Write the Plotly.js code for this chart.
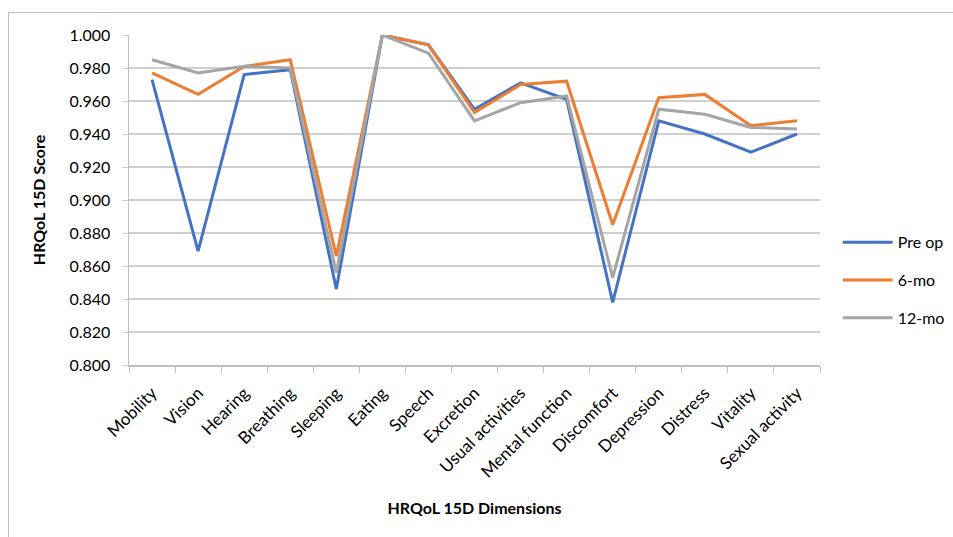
<!DOCTYPE html>
<html>
<head>
<meta charset="utf-8">
<script src="https://cdn.plot.ly/plotly-3.0.1.min.js"></script>
<style>
html,body{margin:0;padding:0;background:#fff;overflow:hidden;}
#plot{position:absolute;left:0;top:0;width:953px;height:537px;}
#frame{position:absolute;left:8px;top:12px;width:960px;height:560px;border:1px solid #bfbfbf;box-sizing:border-box;z-index:10;pointer-events:none;background:transparent;}
</style>
</head>
<body>
<div id="plot"></div>
<div id="frame"></div>
<script>
const categories = ["Mobility","Vision","Hearing","Breathing","Sleeping","Eating","Speech","Excretion","Usual activities","Mental function","Discomfort","Depression","Distress","Vitality","Sexual activity"];
const preOp  = [0.973, 0.869, 0.976, 0.979, 0.846, 1.000, 0.994, 0.955, 0.971, 0.961, 0.838, 0.948, 0.940, 0.929, 0.940];
const sixMo  = [0.977, 0.964, 0.981, 0.985, 0.866, 1.000, 0.994, 0.953, 0.970, 0.972, 0.885, 0.962, 0.964, 0.945, 0.948];
const twelveMo = [0.985, 0.977, 0.981, 0.980, 0.856, 1.000, 0.989, 0.948, 0.959, 0.963, 0.853, 0.955, 0.952, 0.944, 0.943];
const yTicks = [0.800,0.820,0.840,0.860,0.880,0.900,0.920,0.940,0.960,0.980,1.000];

const font = "Lato, 'Open Sans', 'Liberation Sans', sans-serif";
const mk = (y, name, color, g) => ({
  x: categories, y: y, name: name, type: 'scatter', mode: 'lines',
  line: {color: color, width: 3}, legendgroup: g
});
const data = [
  mk(preOp, 'Pre op', '#4472C4', 'a'),
  mk(sixMo, '6-mo', '#ED7D31', 'b'),
  mk(twelveMo, '12-mo', '#A5A5A5', 'c')
];
const layout = {
  width: 953, height: 537,
  paper_bgcolor: 'rgba(0,0,0,0)', plot_bgcolor: 'rgba(0,0,0,0)',
  margin: {l: 129, r: 133, t: 35, b: 172},
  font: {family: font, size: 15, color: '#000'},
  showlegend: true,
  legend: {xref: 'container', yref: 'container', x: 0.879, xanchor: 'left', y: 0.478, yanchor: 'middle',
           font: {family: font, size: 16, color: '#000'},
           itemwidth: 50,
           tracegroupgap: 14, traceorder: 'grouped'},
  xaxis: {
    type: 'category', tickangle: -45, showgrid: false,
    showline: true, linecolor: '#bfbfbf', linewidth: 1.5,
    ticks: 'outside', tickson: 'boundaries', ticklen: 6, tickcolor: '#bfbfbf',
    ticklabelstandoff: 10,
    tickfont: {family: font, size: 17, color: '#000'},
    title: {text: '<b>HRQoL 15D Dimensions</b>', font: {family: font, size: 16, color: '#000'}, standoff: 22},
    range: [-0.5, 14.5], automargin: false
  },
  yaxis: {
    range: [0.8, 1.0], tickvals: yTicks, tickformat: '.3f',
    showgrid: true, gridcolor: '#cfcfcf', gridwidth: 1.5,
    showline: true, linecolor: '#bfbfbf', linewidth: 1.5,
    ticks: 'outside', ticklen: 6, tickcolor: '#cfcfcf',
    ticklabelstandoff: 8,
    zeroline: false,
    tickfont: {family: font, size: 16, color: '#000'},
    title: {text: '<b>HRQoL 15D Score</b>', font: {family: font, size: 16, color: '#000'}, standoff: 20},
    automargin: false
  }
};
Plotly.newPlot('plot', data, layout, {displayModeBar: false, staticPlot: true});
</script>
</body>
</html>
